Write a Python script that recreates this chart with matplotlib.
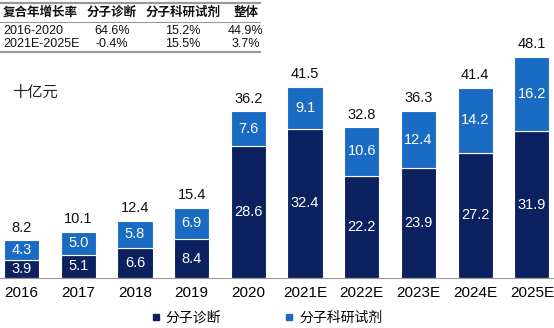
import matplotlib.pyplot as plt
from matplotlib.lines import Line2D

plt.rcParams['font.family'] = ['Liberation Sans', 'Noto Sans CJK SC', 'DejaVu Sans']

years = ['2016', '2017', '2018', '2019', '2020', '2021E', '2022E', '2023E', '2024E', '2025E']
diag = [3.9, 5.1, 6.6, 8.4, 28.6, 32.4, 22.2, 23.9, 27.2, 31.9]
reag = [4.3, 5.0, 5.8, 6.9, 7.6, 9.1, 10.6, 12.4, 14.2, 16.2]
total = [8.2, 10.1, 12.4, 15.4, 36.2, 41.5, 32.8, 36.3, 41.4, 48.1]

tbl_head = ['复合年增长率', '分子诊断', '分子科研试剂', '整体']
tbl_rows = [['2016-2020', '64.6%', '15.2%', '44.9%'],
            ['2021E-2025E', '-0.4%', '15.5%', '3.7%']]

navy = '#0c2160'
blue = '#1a6bc4'

W, H = 554, 328
fig = plt.figure(figsize=(W / 100, H / 100), dpi=100)
ax = fig.add_axes([0, 50 / H, 1, 248 / H])

x = range(len(years))
ax.bar(x, diag, width=0.62, color=navy, edgecolor='white', linewidth=0.8)
ax.bar(x, reag, bottom=diag, width=0.62, color=blue, edgecolor='white', linewidth=0.8)

for i in x:
    ax.text(i, diag[i] / 2, f'{diag[i]:.1f}', ha='center', va='center',
            color='white', fontsize=10.5)
    ax.text(i, diag[i] + reag[i] / 2, f'{reag[i]:.1f}', ha='center', va='center',
            color='white', fontsize=10.5)
    ax.annotate(f'{total[i]:.1f}', (i, total[i]), xytext=(0, 4),
                textcoords='offset points', ha='center', va='bottom',
                fontsize=10.5, color='#111111')

ax.set_xlim(-0.38, 9.39)
ax.set_ylim(0, 53.9)
ax.set_xticks(list(x))
ax.set_xticklabels(years, fontsize=11)
ax.tick_params(axis='x', length=0, pad=6)
ax.set_yticks([])
for s in ['top', 'right', 'left']:
    ax.spines[s].set_visible(False)
ax.spines['bottom'].set_color('#999999')
ax.patch.set_alpha(0)

fig.text(12 / W, 1 - 93 / H, '十亿元', fontsize=11, style='italic',
         ha='left', va='center', color='#222222')

# CAGR table
col_x = [3, 112, 183, 246]
row_y = [13, 31, 44]
for j, h in enumerate(tbl_head):
    fig.text(col_x[j] / W, 1 - row_y[0] / H, h, fontsize=9, fontweight='bold',
             ha='left' if j == 0 else 'center', va='center', color='#111111')
for r, row in enumerate(tbl_rows):
    for j, v in enumerate(row):
        fig.text(col_x[j] / W, 1 - row_y[r + 1] / H, v, fontsize=9,
                 ha='left' if j == 0 else 'center', va='center', color='#111111')
for yy, lw in [(3, 1.6), (21.5, 0.8), (52, 1.6)]:
    fig.add_artist(Line2D([0, 260 / W], [1 - yy / H, 1 - yy / H],
                          color='#999999', linewidth=lw))

handles = [Line2D([], [], marker='s', linestyle='none', markersize=5, color=navy),
           Line2D([], [], marker='s', linestyle='none', markersize=5, color=blue)]
fig.legend(handles, ['分子诊断', '分子科研试剂'], loc='center',
           bbox_to_anchor=(267 / W, 1 - 318 / H), ncol=2, frameon=False,
           fontsize=10, handlelength=0.6, handletextpad=0.4, columnspacing=4.6)

fig.savefig('out.png', dpi=100)
